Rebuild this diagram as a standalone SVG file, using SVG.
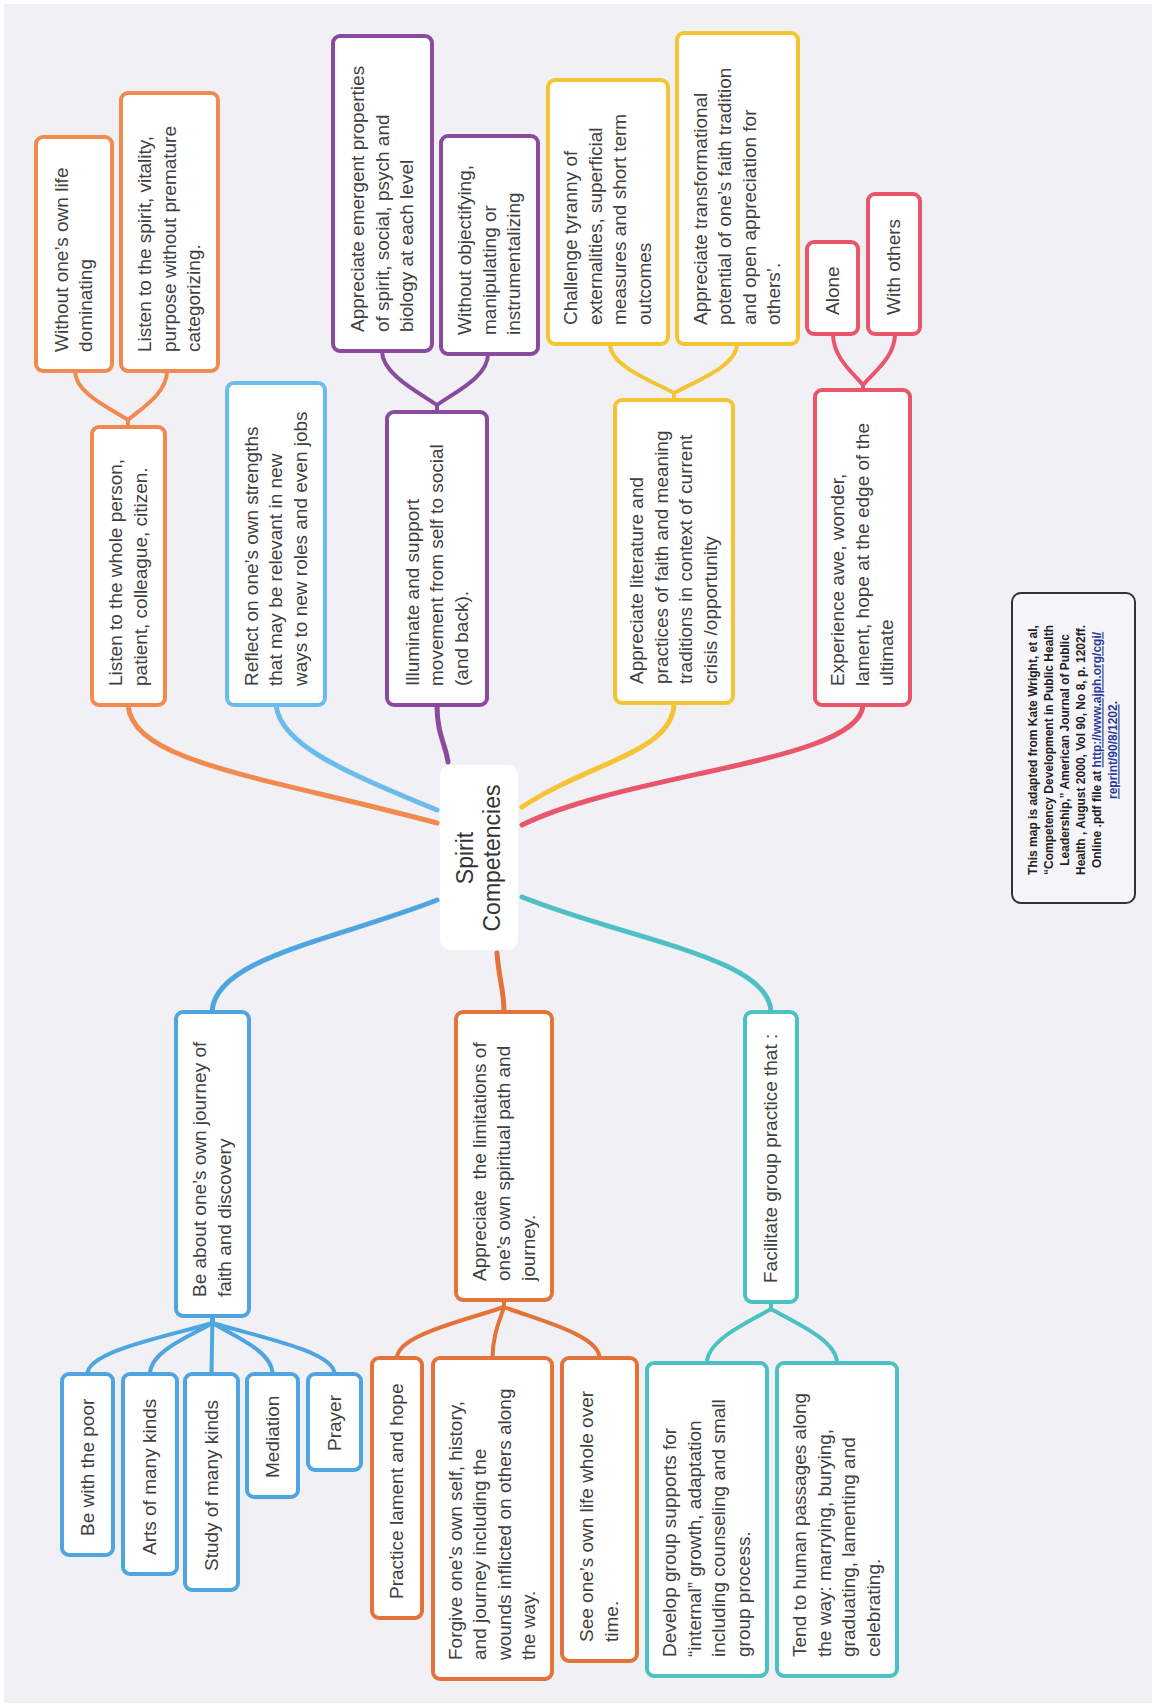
<svg xmlns="http://www.w3.org/2000/svg" width="1156" height="1707" viewBox="0 0 1156 1707">
<style>
.bg{fill:#f0f0f5}
.box{fill:#ffffff;stroke-width:4}
.t{font-family:"Liberation Sans",Arial,sans-serif;font-size:19px;fill:#404040}
.ct{font-family:"Liberation Sans",Arial,sans-serif;font-size:23px;fill:#333333;text-anchor:middle}
.cit{font-family:"Liberation Sans",Arial,sans-serif;font-size:12px;font-weight:bold;fill:#222222;text-anchor:middle}
.lnk{fill:#2a3c9a;text-decoration:underline}
.c{fill:none;stroke-width:5;stroke-linecap:round}
.f{fill:none;stroke-width:4;stroke-linecap:round}
.ot{stroke:#f08a4e}.ob{stroke:#e4733a}.bt{stroke:#6bbceb}.bb{stroke:#4ea5e0}
.pu{stroke:#8a4a9f}.ye{stroke:#f5c433}.re{stroke:#e9566b}.te{stroke:#4dc0c3}
</style>
<rect x="0" y="0" width="1156" height="1707" fill="#ffffff"/>
<rect class="bg" x="4" y="4" width="1148" height="1699"/>
<g id="connectors">
<path class="c ot" d="M128 705 C133 762,260 776,437 823"/>
<path class="c bt" d="M276 705 C280 745,345 772,437 810"/>
<path class="c pu" d="M437 705 C437 735,446 745,448 762"/>
<path class="c ye" d="M674 703 C674 752,590 762,522 807"/>
<path class="c re" d="M863 705 C860 762,630 772,522 825"/>
<path class="c bb" d="M437 900 C335 940,214 958,212 1012"/>
<path class="c ob" d="M497 953 C499 980,504 990,504 1012"/>
<path class="c te" d="M522 897 C630 940,770 958,771 1012"/>
<path class="f ot" d="M128 427 L128 420 C109.5 408,75 393,75 371"/>
<path class="f ot" d="M128 427 L128 420 C142 408,167 393,167 371"/>
<path class="f pu" d="M437 412 L437 405 C418 392,382 374,382 351"/>
<path class="f pu" d="M437 412 L437 405 C455 392,488 377,488 354"/>
<path class="f ye" d="M674 400 L674 393 C652 381,610 366,610 344"/>
<path class="f ye" d="M674 400 L674 393 C696 381,737 366,737 344"/>
<path class="f re" d="M863 390 L863 385 C852 372,833 357,833 334"/>
<path class="f re" d="M863 390 L863 385 C874 372,895 357,895 334"/>
<path class="f bb" d="M212.5 1316 L212.5 1323 C169 1336,87.5 1351,87.5 1374"/>
<path class="f bb" d="M212.5 1316 L212.5 1323 C190.6 1336,150 1351,150 1374"/>
<path class="f bb" d="M212.5 1316 L211.5 1374"/>
<path class="f bb" d="M212.5 1316 L212.5 1323 C233.5 1336,272.5 1351,272.5 1374"/>
<path class="f bb" d="M212.5 1316 L212.5 1323 C255 1336,334.5 1351,334.5 1374"/>
<path class="f ob" d="M504 1300 L504 1307 C466.5 1320,397 1335,397 1358"/>
<path class="f ob" d="M504 1300 L504 1307 C500 1320,492.5 1335,492.5 1358"/>
<path class="f ob" d="M504 1300 L504 1307 C537.5 1320,599.5 1335,599.5 1358"/>
<path class="f te" d="M771 1302 L771 1309 C748.6 1322,707 1340,707 1363"/>
<path class="f te" d="M771 1302 L771 1309 C794 1322,837 1340,837 1363"/>
</g>
<g id="center">
<rect x="440" y="765" width="78" height="185" rx="10" fill="#ffffff"/>
<text class="ct" transform="translate(478,858) rotate(-90)"><tspan x="0" dy="-4.7">Spirit</tspan><tspan x="0" dy="27">Competencies</tspan></text>
</g>
<g id="n1">
<rect class="box ot" x="92" y="427" width="73" height="278" rx="7"/>
<text class="t" transform="translate(128.5,686) rotate(-90)"><tspan x="0" dy="-6.25">Listen to the whole person,</tspan><tspan x="0" dy="24.5">patient, colleague, citizen.</tspan></text>
</g>
<g id="n1a">
<rect class="box ot" x="36" y="137" width="76" height="234" rx="7"/>
<text class="t" transform="translate(74,352) rotate(-90)"><tspan x="0" dy="-6.25">Without one’s own life</tspan><tspan x="0" dy="24.5">dominating</tspan></text>
</g>
<g id="n1b">
<rect class="box ot" x="121" y="93" width="97" height="278" rx="7"/>
<text class="t" transform="translate(169.5,352) rotate(-90)"><tspan x="0" dy="-18.5">Listen to the spirit, vitality,</tspan><tspan x="0" dy="24.5">purpose without premature</tspan><tspan x="0" dy="24.5">categorizing.</tspan></text>
</g>
<g id="n2">
<rect class="box bt" x="227" y="383" width="98" height="322" rx="7"/>
<text class="t" transform="translate(276,686) rotate(-90)"><tspan x="0" dy="-18.5">Reflect on one’s own strengths</tspan><tspan x="0" dy="24.5">that may be relevant in new</tspan><tspan x="0" dy="24.5">ways to new roles and even jobs</tspan></text>
</g>
<g id="n3">
<rect class="box pu" x="387" y="412" width="100" height="293" rx="7"/>
<text class="t" transform="translate(437,686) rotate(-90)"><tspan x="0" dy="-18.5">Illuminate and support</tspan><tspan x="0" dy="24.5">movement from self to social</tspan><tspan x="0" dy="24.5">(and back).</tspan></text>
</g>
<g id="n3a">
<rect class="box pu" x="333" y="36" width="99" height="315" rx="7"/>
<text class="t" transform="translate(382.5,332) rotate(-90)"><tspan x="0" dy="-18.5">Appreciate emergent properties</tspan><tspan x="0" dy="24.5">of spirit, social, psych and</tspan><tspan x="0" dy="24.5">biology at each level</tspan></text>
</g>
<g id="n3b">
<rect class="box pu" x="441" y="136" width="97" height="218" rx="7"/>
<text class="t" transform="translate(489.5,335) rotate(-90)"><tspan x="0" dy="-18.5">Without objectifying,</tspan><tspan x="0" dy="24.5">manipulating or</tspan><tspan x="0" dy="24.5">instrumentalizing</tspan></text>
</g>
<g id="n4">
<rect class="box ye" x="615" y="400" width="118" height="303" rx="7"/>
<text class="t" transform="translate(674,684) rotate(-90)"><tspan x="0" dy="-30.75">Appreciate literature and</tspan><tspan x="0" dy="24.5">practices of faith and meaning</tspan><tspan x="0" dy="24.5">traditions in context of current</tspan><tspan x="0" dy="24.5">crisis /opportunity</tspan></text>
</g>
<g id="n4a">
<rect class="box ye" x="548" y="80" width="120" height="264" rx="7"/>
<text class="t" transform="translate(608,325) rotate(-90)"><tspan x="0" dy="-30.75">Challenge tyranny of</tspan><tspan x="0" dy="24.5">externalities, superficial</tspan><tspan x="0" dy="24.5">measures and short term</tspan><tspan x="0" dy="24.5">outcomes</tspan></text>
</g>
<g id="n4b">
<rect class="box ye" x="677" y="33" width="121" height="311" rx="7"/>
<text class="t" transform="translate(737.5,325) rotate(-90)"><tspan x="0" dy="-30.75">Appreciate transformational</tspan><tspan x="0" dy="24.5">potential of one’s faith tradition</tspan><tspan x="0" dy="24.5">and open appreciation for</tspan><tspan x="0" dy="24.5">others’.</tspan></text>
</g>
<g id="n5">
<rect class="box re" x="815" y="390" width="95" height="315" rx="7"/>
<text class="t" transform="translate(862.5,686) rotate(-90)"><tspan x="0" dy="-18.5">Experience awe, wonder,</tspan><tspan x="0" dy="24.5">lament, hope at the edge of the</tspan><tspan x="0" dy="24.5">ultimate</tspan></text>
</g>
<g id="n5a">
<rect class="box re" x="807" y="242" width="51" height="92" rx="7"/>
<text class="t" transform="translate(832.5,315) rotate(-90)"><tspan x="0" dy="6">Alone</tspan></text>
</g>
<g id="n5b">
<rect class="box re" x="868" y="194" width="52" height="140" rx="7"/>
<text class="t" transform="translate(894,315) rotate(-90)"><tspan x="0" dy="6">With others</tspan></text>
</g>
<g id="n6">
<rect class="box bb" x="176" y="1012" width="73" height="304" rx="7"/>
<text class="t" transform="translate(212.5,1297) rotate(-90)"><tspan x="0" dy="-6.25">Be about one’s own journey of</tspan><tspan x="0" dy="24.5">faith and discovery</tspan></text>
</g>
<g id="n6a">
<rect class="box bb" x="62" y="1374" width="51" height="181" rx="7"/>
<text class="t" transform="translate(87.5,1536) rotate(-90)"><tspan x="0" dy="6">Be with the poor</tspan></text>
</g>
<g id="n6b">
<rect class="box bb" x="123" y="1374" width="54" height="200" rx="7"/>
<text class="t" transform="translate(150,1555) rotate(-90)"><tspan x="0" dy="6">Arts of many kinds</tspan></text>
</g>
<g id="n6c">
<rect class="box bb" x="185" y="1374" width="53" height="216" rx="7"/>
<text class="t" transform="translate(211.5,1571) rotate(-90)"><tspan x="0" dy="6">Study of many kinds</tspan></text>
</g>
<g id="n6d">
<rect class="box bb" x="247" y="1374" width="51" height="123" rx="7"/>
<text class="t" transform="translate(272.5,1478) rotate(-90)"><tspan x="0" dy="6">Mediation</tspan></text>
</g>
<g id="n6e">
<rect class="box bb" x="308" y="1374" width="53" height="96" rx="7"/>
<text class="t" transform="translate(334.5,1451) rotate(-90)"><tspan x="0" dy="6">Prayer</tspan></text>
</g>
<g id="n7">
<rect class="box ob" x="456" y="1012" width="96" height="288" rx="7"/>
<text class="t" transform="translate(504,1281) rotate(-90)"><tspan x="0" dy="-18.5">Appreciate&#160; the limitations of</tspan><tspan x="0" dy="24.5">one’s own spiritual path and</tspan><tspan x="0" dy="24.5">journey.</tspan></text>
</g>
<g id="n7a">
<rect class="box ob" x="372" y="1358" width="50" height="260" rx="7"/>
<text class="t" transform="translate(397,1599) rotate(-90)"><tspan x="0" dy="6">Practice lament and hope</tspan></text>
</g>
<g id="n7b">
<rect class="box ob" x="433" y="1358" width="119" height="321" rx="7"/>
<text class="t" transform="translate(492.5,1660) rotate(-90)"><tspan x="0" dy="-30.75">Forgive one’s own self, history,</tspan><tspan x="0" dy="24.5">and journey including the</tspan><tspan x="0" dy="24.5">wounds inflicted on others along</tspan><tspan x="0" dy="24.5">the way.</tspan></text>
</g>
<g id="n7c">
<rect class="box ob" x="562" y="1358" width="75" height="303" rx="7"/>
<text class="t" transform="translate(599.5,1642) rotate(-90)"><tspan x="0" dy="-6.25">See one’s own life whole over</tspan><tspan x="0" dy="24.5">time.</tspan></text>
</g>
<g id="n8">
<rect class="box te" x="745" y="1012" width="52" height="290" rx="7"/>
<text class="t" transform="translate(771,1283) rotate(-90)"><tspan x="0" dy="6">Facilitate group practice that :</tspan></text>
</g>
<g id="n8a">
<rect class="box te" x="647" y="1363" width="120" height="313" rx="7"/>
<text class="t" transform="translate(707,1657) rotate(-90)"><tspan x="0" dy="-30.75">Develop group supports for</tspan><tspan x="0" dy="24.5">“internal” growth, adaptation</tspan><tspan x="0" dy="24.5">including counseling and small</tspan><tspan x="0" dy="24.5">group process.</tspan></text>
</g>
<g id="n8b">
<rect class="box te" x="777" y="1363" width="120" height="313" rx="7"/>
<text class="t" transform="translate(837,1657) rotate(-90)"><tspan x="0" dy="-30.75">Tend to human passages along</tspan><tspan x="0" dy="24.5">the way: marrying, burying,</tspan><tspan x="0" dy="24.5">graduating, lamenting and</tspan><tspan x="0" dy="24.5">celebrating.</tspan></text>
</g>
<g id="citation">
<rect x="1012" y="593" width="123" height="310" rx="9" fill="#f6f6f9" stroke="#333333" stroke-width="2"/>
<text class="cit" transform="translate(1073,750) rotate(-90)"><tspan x="0" dy="-35.7">This map is adapted from Kate Wright, et al,</tspan><tspan x="0" dy="16">“Competency Development in Public Health</tspan><tspan x="0" dy="16">Leadership,” American Journal of Public</tspan><tspan x="0" dy="16">Health , August 2000, Vol 90, No 8, p. 1202ff.</tspan><tspan x="0" dy="16">Online .pdf file at <tspan class="lnk">http://www.ajph.org/cgi/</tspan></tspan><tspan x="0" dy="16" class="lnk">reprint/90/8/1202</tspan><tspan>.</tspan></text>
</g>
</svg>
